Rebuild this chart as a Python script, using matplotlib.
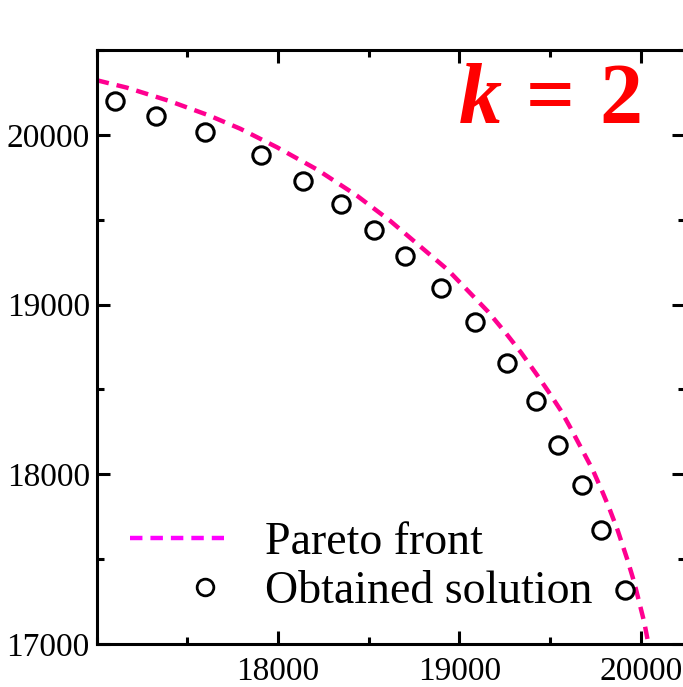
import matplotlib
matplotlib.use('Agg')
import matplotlib.pyplot as plt
from matplotlib.lines import Line2D
from matplotlib.legend_handler import HandlerLine2D
from matplotlib.ticker import MultipleLocator
import numpy as np

plt.rcParams['font.family'] = ['Liberation Serif', 'DejaVu Serif']
plt.rcParams['mathtext.fontset'] = 'custom'
plt.rcParams['mathtext.rm'] = 'Liberation Serif:bold'
plt.rcParams['mathtext.it'] = 'Liberation Serif:italic:bold'
plt.rcParams['mathtext.bf'] = 'Liberation Serif:bold'

# Pareto front (dashed curve)
front_f1 = [17000, 17167, 17397, 17618, 17792, 17994, 18215, 18435, 18619, 18936,
            19157, 19258, 19340, 19423, 19488, 19561, 19616, 19671, 19736, 19791,
            19827, 19874, 19929, 19965, 20020, 20043]
front_f2 = [20322, 20278, 20201, 20115, 20036, 19927, 19796, 19642, 19493, 19205,
            18960, 18830, 18718, 18594, 18493, 18374, 18268, 18157, 18026, 17892,
            17800, 17668, 17490, 17362, 17128, 17000]

# obtained solutions (open circles)
sol_f1 = [17101, 17327, 17597, 17906, 18136, 18349, 18528, 18700, 18901, 19088,
          19263, 19423, 19546, 19675, 19782, 19914]
sol_f2 = [20201, 20113, 20018, 19883, 19731, 19590, 19438, 19286, 19100, 18895,
          18657, 18429, 18173, 17939, 17669, 17319]

xticks = [18000, 19000, 20000]
yticks = [17000, 18000, 19000, 20000]


class MarkerRight(HandlerLine2D):
    # single legend marker sits near the right end of the handle box
    def get_xdata(self, legend, xdescent, ydescent, width, height, fontsize):
        xdata = np.array([-xdescent + 0.6 * width, -xdescent + width])
        return xdata, np.array([-xdescent + 0.8 * width])


fig = plt.figure(figsize=(6.83, 6.87), dpi=100)
ax = fig.add_axes([0.1416, 0.0626, 0.8614, 0.8646])

ax.plot(front_f1, front_f2, color='#ff0090', lw=3.2, linestyle=(0, (2.8, 1.8)), zorder=2)
ax.plot(sol_f1, sol_f2, linestyle='none', marker='o', ms=12.5, mew=2.2,
        mfc='none', mec='black', zorder=3)

ax.set_xlim(17000, 20245)
ax.set_ylim(17000, 20500)
ax.set_xticks(xticks)
ax.set_yticks(yticks)
ax.xaxis.set_minor_locator(MultipleLocator(500))
ax.yaxis.set_minor_locator(MultipleLocator(500))

for s in ax.spines.values():
    s.set_linewidth(2.2)
ax.tick_params(which='both', direction='in', top=True, right=True, width=2.2)
ax.tick_params(which='major', length=9.5, labelsize=24, pad=5)
ax.tick_params(which='minor', length=5)
ax.tick_params(axis='x', which='major', pad=9)

ax.text(0.924, 0.877, r'$k\,=\,2$', transform=ax.transAxes, ha='right',
        va='baseline', color='#ff0000', fontsize=62)

line_h = Line2D([], [], color='#ff00ff', lw=3.2, linestyle=(0, (2.8, 1.8)))
mark_h = Line2D([], [], linestyle='none', marker='o', ms=12, mew=2,
                mfc='none', mec='black')
ax.legend([line_h, mark_h], ['Pareto front', 'Obtained solution'], loc='center left',
          bbox_to_anchor=(0.0566, 0.129), frameon=False, fontsize=33,
          handlelength=2.05, handletextpad=0.9, labelspacing=0.15,
          borderpad=0, borderaxespad=0, handler_map={mark_h: MarkerRight()})

fig.savefig('out.png', dpi=100)
